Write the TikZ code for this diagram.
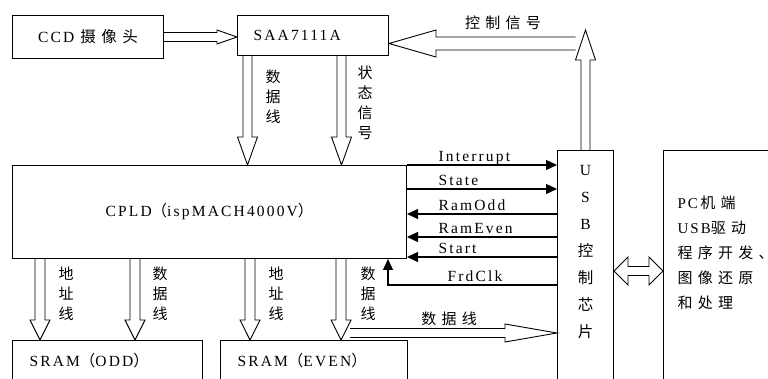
\documentclass[tikz,border=0pt]{standalone}
\usepackage{fontspec}
\setmainfont{Liberation Serif}[LetterSpace=14]
\newfontfamily\cjk{Noto Sans CJK SC}[LetterSpace=35]
\usetikzlibrary{positioning, arrows.meta, calc}

% 空心箭头: 杆半宽, 头半宽, 头长, 起点, 终点
\newcommand{\hollowarrow}[5]{%
	\coordinate (ha) at ($(#5)!#3!(#4)$);
	\draw[hollow] ($(#4)!#1!90:(#5)$) -- ($(ha)!#1!90:(#5)$) -- ($(ha)!#2!90:(#5)$) -- (#5)
		-- ($(ha)!#2!-90:(#5)$) -- ($(ha)!#1!-90:(#5)$) -- ($(#4)!#1!-90:(#5)$);%
}
% 双向空心箭头
\newcommand{\dblhollow}[5]{%
	\coordinate (hb) at ($(#4)!#3!(#5)$);
	\coordinate (he) at ($(#5)!#3!(#4)$);
	\draw[hollow] (#4) -- ($(hb)!#2!90:(#5)$) -- ($(hb)!#1!90:(#5)$) -- ($(he)!#1!90:(#5)$)
		-- ($(he)!#2!90:(#5)$) -- (#5) -- ($(he)!#2!-90:(#5)$) -- ($(he)!#1!-90:(#5)$)
		-- ($(hb)!#1!-90:(#5)$) -- ($(hb)!#2!-90:(#5)$) -- cycle;%
}

\begin{document}
\begin{tikzpicture}[x=1pt, y=-1pt, font=\fontsize{15.5}{17}\selectfont]
	% 定义样式
	\tikzset{
		box/.style={draw, line width=1pt, anchor=north west, inner sep=0pt},
		hollow/.style={draw, line width=0.9pt, line join=miter},
		sig/.style={line width=1.2pt},
		toright/.style={->},
		toleft/.style={<-},
		>={Triangle[length=11pt, width=10pt]},
		zh/.style={font=\cjk\fontsize{15}{17}\selectfont},
		vlab/.style={align=center, font=\cjk\fontsize{15}{20}\selectfont}
	}
	\useasboundingbox (0,0) rectangle (768,379);
	\clip (0,0) rectangle (768,379);
	
	% 方框
	\node[box, minimum width=151pt, minimum height=43pt] (ccd) at (12,15) {CCD {\cjk 摄像头}};
	\node[box, text width=119pt, inner xsep=16pt, minimum height=40pt, align=left] (saa) at (237,15) {SAA7111A};
	\node[box, minimum width=394pt, minimum height=93pt] (cpld) at (12,165) {CPLD{\cjk （}ispMACH4000V{\cjk ）}};
	\node[box, text width=156pt, inner xsep=17pt, minimum height=41pt, align=left] (sramodd) at (12,340) {SRAM{\cjk （}ODD{\cjk ）}};
	\node[box, text width=153pt, inner xsep=17pt, minimum height=41pt, align=left] (srameven) at (220,340) {SRAM{\cjk （}EVEN{\cjk ）}};
	\node[box, minimum width=56pt, minimum height=240pt] (usb) at (557,150) {};
	\node[box, minimum width=120pt, minimum height=240pt] (pc) at (663,150) {};
	\node[align=center, font=\fontsize{15.5}{27}\selectfont] (usbtxt) at ($(usb.north)+(0,102)$)
		{U\\S\\B\\{\cjk 控}\\{\cjk 制}\\{\cjk 芯}\\{\cjk 片}};
	\node[anchor=west, align=left, font=\fontsize{15}{25}\selectfont] (pctxt) at ($(pc.north west)+(11,102.5)$)
		{PC\,{\cjk 机端}\\USB{\cjk 驱动}\\{\cjk 程序开发、}\\{\cjk 图像还原}\\{\cjk 和处理}};
	
	% CCD -> SAA7111A
	\coordinate (c1) at (ccd.east);
	\coordinate (c1e) at (ccd.east -| saa.west);
	\hollowarrow{4.5pt}{7pt}{20pt}{c1}{c1e}
	
	% SAA7111A -> CPLD
	\coordinate (s1) at ($(saa.south west)+(10.5,0)$);
	\coordinate (s1e) at (s1 |- cpld.north);
	\hollowarrow{4.5pt}{10pt}{28pt}{s1}{s1e}
	\coordinate (s2) at ($(saa.south west)+(104.5,0)$);
	\coordinate (s2e) at (s2 |- cpld.north);
	\hollowarrow{4.5pt}{10pt}{28pt}{s2}{s2e}
	\node[vlab] (labSdata) at ($(saa.south west)+(36,41)$) {数\\据\\线};
	\node[vlab] (labSstate) at ($(saa.south west)+(128,47)$) {状\\态\\信\\号};
	
	% 控制信号
	\coordinate (u1) at (usb.north);
	\coordinate (u1e) at ($(usb.north)+(0,-120)$);
	\hollowarrow{4.5pt}{10pt}{30pt}{u1}{u1e}
	\coordinate (k1) at ($(usb.north)+(-10,-106.5)$);
	\coordinate (k1e) at (k1 -| saa.east);
	\hollowarrow{6.5pt}{13.5pt}{47pt}{k1}{k1e}
	\node[zh] (labCtrl) at ($(saa.north east)+(114,8)$) {控制信号};
	
	% CPLD -> SRAM
	\foreach \dx [count=\i] in {28,123,238,329} {
		\coordinate (m\i) at ($(cpld.south west)+(\dx,0)$);
		\coordinate (m\i-e) at (m\i |- sramodd.north);
		\hollowarrow{5pt}{10pt}{20pt}{m\i}{m\i-e}
	}
	\foreach \dx/\txt [count=\i] in {54/{地\\址\\线}, 148/{数\\据\\线}, 264/{地\\址\\线}, 356/{数\\据\\线}} {
		\node[vlab] (labM\i) at ($(cpld.south west)+(\dx,35)$) {\txt};
	}
	
	% 数据线 -> USB
	\coordinate (d1) at ($(cpld.south west)+(338,74)$);
	\coordinate (d1e) at (d1 -| usb.west);
	\hollowarrow{4.5pt}{9pt}{52pt}{d1}{d1e}
	\node[zh] (labData) at ($(cpld.south west)+(437,60)$) {数据线};
	
	% USB <-> PC
	\coordinate (p1) at ($(usb.north east)+(0,121)$);
	\coordinate (p1e) at (p1 -| pc.west);
	\dblhollow{4.5pt}{14pt}{14pt}{p1}{p1e}
	
	% CPLD 与 USB 之间的信号线
	\foreach \dy/\sname/\dir in {0/Interrupt/toright, 24/State/toright, 49/RamOdd/toleft, 72/RamEven/toleft, 92/Start/toleft} {
		\draw[sig, \dir] ($(cpld.north east)+(0,\dy)$) -- ($(cpld.north east -| usb.west)+(0,\dy)$);
		\node[anchor=base west] (lab\sname) at ($(cpld.north east)+(28,\dy-3)$) {\sname};
	}
	\coordinate (frd) at ($(usb.north west)+(0,135)$);
	\draw[sig, ->] (frd) -| ($(cpld.south east)+(-19,0)$);
	\node[anchor=base west] (labFrdClk) at ($(cpld.north east)+(37,117)$) {FrdClk};
\end{tikzpicture}
\end{document}
